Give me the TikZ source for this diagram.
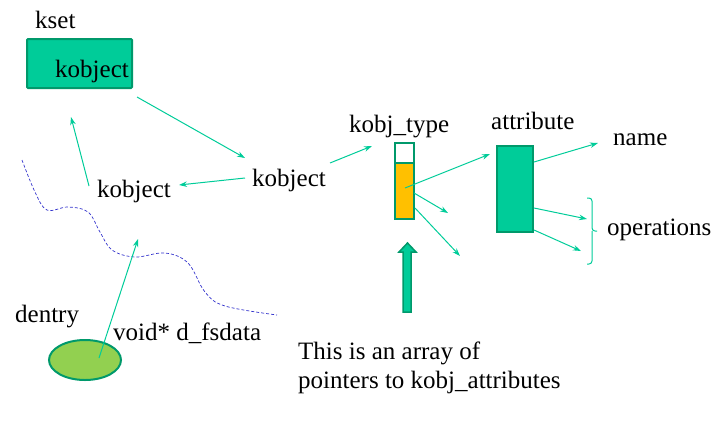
\documentclass[tikz,border=0pt]{standalone}
\usepackage{fontspec}
\setmainfont{Liberation Serif}
\newfontfamily\tms{Liberation Serif}
\usetikzlibrary{arrows.meta}
\definecolor{kteal}{HTML}{00CC99}
\definecolor{kdark}{HTML}{00996B}
\definecolor{kgreen}{HTML}{92D050}
\definecolor{korange}{HTML}{FFC000}
\definecolor{kblue}{HTML}{3333CC}

\begin{document}
\begin{tikzpicture}[x=1bp,y=-1bp]
        \tikzset{word/.style={anchor=base west,inner sep=0pt,
                font=\tms\fontsize{25bp}{29bp}\selectfont},
            ptr/.style={draw=kteal,line width=1bp,-{Stealth[length=8bp,width=5.5bp]}},
            box/.style={draw=kdark,line width=2bp,fill=kteal}}
        \useasboundingbox (0,0) rectangle (717,432);
        % kset with its embedded kobject
        \draw[box,rounded corners=1bp] (27,39) rectangle (132,88);
        \node[word] (kset) at (35,28) {kset};
        \node[word] (ksetobj) at (55,77) {kobject};
        \node[word] (kobjr) at (252,186) {kobject};
        \node[word] (kobjl) at (97,197) {kobject};
        % boundary of the sysfs side
        \draw[kblue,dashed,dash pattern=on 3bp off 2bp,line width=0.7bp]
            plot[smooth,tension=0.6] coordinates {(22,160) (35,192) (47,210) (68,207)
                (88,212) (100,232) (112,250) (135,257) (165,253) (188,263) (205,292)
                (225,306) (277,315)};
        % dentry
        \draw[draw=kdark,line width=2bp,fill=kgreen] (85,360) ellipse [x radius=36bp,y radius=20bp];
        \node[word] (dentry) at (15,322) {dentry};
        \node[word] (fsdata) at (113,340) {void* d\_fsdata};
        % kobj_type and its attribute array
        \node[word] (ktype) at (349,132) {kobj\_type};
        \draw[draw=kdark,line width=2bp,fill=white] (395,143) rectangle (414,163);
        \draw[draw=kdark,line width=2bp,fill=korange] (395,163) rectangle (414,219);
        \node[word] (attr) at (491,129) {attribute};
        \draw[box] (497,146) rectangle (533,232);
        \node[word] (name) at (613,145) {name};
        \node[word] (ops) at (607,235) {operations};
        \draw[kteal,line width=1bp,rounded corners=3bp] (587,198) -- (592,198) -- (592,231) -- (597,231)
            (592,231) -- (592,264) -- (587,264);
        % pointers
        \coordinate (t1) at (137,97);   \coordinate (h1) at (245,158);
        \coordinate (t2) at (245,178);  \coordinate (h2) at (179,185);
        \coordinate (t3) at (89,186);   \coordinate (h3) at (71,117);
        \coordinate (t4) at (99,358);   \coordinate (h4) at (138,239);
        \coordinate (t5) at (330,163);  \coordinate (h5) at (372,146);
        \coordinate (t6) at (405,188);  \coordinate (h6) at (490,154);
        \coordinate (t7) at (414,193);  \coordinate (h7) at (448,213);
        \coordinate (t8) at (415,208);  \coordinate (h8) at (460,256);
        \coordinate (t9) at (534,162);  \coordinate (h9) at (598,143);
        \coordinate (t10) at (534,208); \coordinate (h10) at (587,219);
        \coordinate (t11) at (534,230); \coordinate (h11) at (581,251);
        \foreach \i in {1,...,11}
            \draw[ptr] (t\i) -- (h\i);
        % big arrow to the array
        \draw[draw=kdark,line width=1.5bp,fill=kteal] (403,312) -- (403,252) -- (399,252) -- (407.5,243)
            -- (416,252) -- (411,252) -- (411,312) -- cycle;
        \node[word] (note1) at (298,359) {This is an array of};
        \node[word] (note2) at (298,388) {pointers to kobj\_attributes};
\end{tikzpicture}
\end{document}
